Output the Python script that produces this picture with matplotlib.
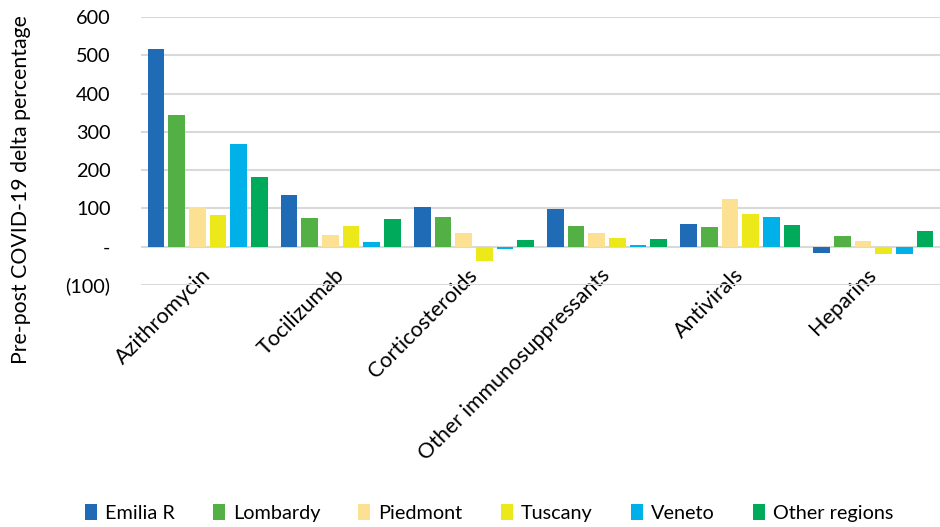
import numpy as np
import matplotlib.pyplot as plt
import matplotlib.transforms as transforms
from matplotlib.ticker import FuncFormatter

plt.rcParams['font.family'] = ['Lato', 'DejaVu Sans']

drugs = ['Azithromycin', 'Tocilizumab', 'Corticosteroids',
         'Other immunosuppressants', 'Antivirals', 'Heparins']
regions = ['Emilia R', 'Lombardy', 'Piedmont', 'Tuscany', 'Veneto', 'Other regions']
colors = ['#1f6bb6', '#52b045', '#fde193', '#ece81a', '#00b0e9', '#00aa5b']

emilia = [517, 134, 103, 99, 60, -15]
lombardy = [343, 74, 78, 53, 51, 27]
piedmont = [103, 31, 35, 35, 125, 15]
tuscany = [83, 54, -36, 24, 85, -19]
veneto = [269, 12, -5, 4, 78, -18]
other = [181, 72, 17, 20, 57, 42]
series = [emilia, lombardy, piedmont, tuscany, veneto, other]

fig = plt.figure(figsize=(9.4, 5.27), dpi=100)
ax = fig.add_axes([0.15, 0.459, 0.85, 0.509])

x = np.arange(len(drugs))
pitch = 0.155
width = 0.125
for i, (vals, name, c) in enumerate(zip(series, regions, colors)):
    ax.bar(x + (i - 2.5) * pitch, vals, width, color=c, label=name, zorder=3)

ax.set_xlim(-0.5, len(drugs) - 0.5)
ax.set_ylim(-100, 600)
ax.set_yticks(np.arange(-100, 601, 100))

def fmt(v, pos):
    if v == 0:
        return '-'
    if v < 0:
        return '({:d})'.format(int(-v))
    return '{:d}'.format(int(v))

ax.yaxis.set_major_formatter(FuncFormatter(fmt))
ax.grid(axis='y', color='#d9d9d9', linewidth=1.5, zorder=0)
for s in ax.spines.values():
    s.set_visible(False)
ax.tick_params(axis='y', length=0, pad=22, labelsize=14.3)
ax.tick_params(axis='x', length=0, pad=0)

# rotated category labels, ending just above the bottom gridline at each group
ax.set_xticks(x)
ax.set_xticklabels(drugs, rotation=45, ha='right', va='top',
                   rotation_mode='anchor', fontsize=15.5)
shift = transforms.ScaledTranslation(-7 / 100, 20 / 100, fig.dpi_scale_trans)
for lbl in ax.get_xticklabels():
    lbl.set_transform(lbl.get_transform() + shift)

fig.text(0.022, 0.64, 'Pre-post COVID-19 delta percentage', rotation=90,
         ha='center', va='center', fontsize=15.3)

fig.legend(loc='lower center', bbox_to_anchor=(0.52, -0.024), ncol=6,
           frameon=False, fontsize=14.3, handlelength=0.6, handleheight=0.9,
           handletextpad=0.4, columnspacing=1.93)

fig.savefig('out.png', dpi=100)
